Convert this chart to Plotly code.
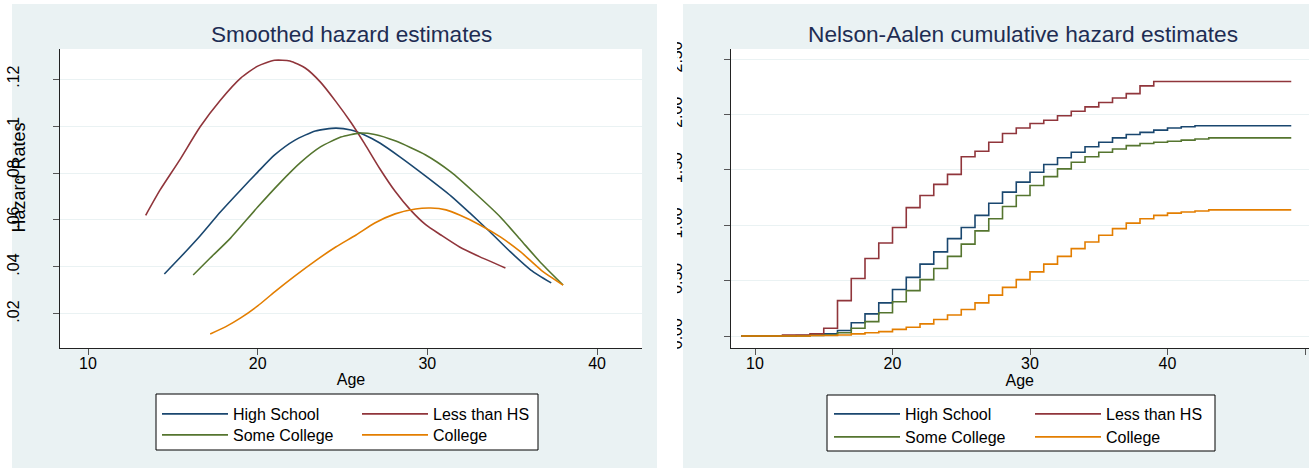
import plotly.graph_objects as go

# ---------------- data ----------------
series_names = ["High School", "Less than HS", "Some College", "College"]
series_colors = ["#1a476f", "#90353b", "#55752f", "#e37e00"]

# Smoothed hazard estimates (left panel)
hs_age = [14.5, 15.4, 16.6, 17.8, 19.0, 20.0, 21.0, 22.2, 23.4, 24.6, 25.5, 26.3, 27.2, 28.4, 29.9, 31.4, 32.5, 33.7, 34.9, 36.1, 37.3]
hs_haz = [0.037, 0.0438, 0.0532, 0.0634, 0.0728, 0.0804, 0.0877, 0.094, 0.0979, 0.0991, 0.0983, 0.0962, 0.0928, 0.0868, 0.0787, 0.0702, 0.063, 0.0549, 0.0464, 0.0387, 0.0332]
lths_age = [13.4, 14.25, 15.4, 16.6, 17.8, 19.0, 20.0, 21.0, 21.9, 22.8, 23.7, 24.6, 25.5, 26.3, 27.2, 28.1, 29.0, 29.9, 30.8, 31.9, 33.1, 34.6]
lths_haz = [0.062, 0.0728, 0.0855, 0.0996, 0.111, 0.1204, 0.1255, 0.128, 0.1277, 0.1247, 0.1187, 0.1105, 0.1015, 0.0925, 0.0818, 0.0722, 0.0643, 0.058, 0.0536, 0.0485, 0.0443, 0.0396]
sc_age = [16.2, 17.2, 18.4, 20.0, 21.3, 22.5, 23.7, 24.9, 26.0, 26.9, 28.1, 29.9, 31.4, 32.8, 34.3, 35.5, 36.7, 38.0]
sc_haz = [0.0366, 0.0438, 0.0523, 0.0655, 0.0757, 0.0843, 0.0911, 0.0953, 0.097, 0.0964, 0.0937, 0.0877, 0.0804, 0.0715, 0.0613, 0.0515, 0.0417, 0.0323]
col_age = [17.2, 18.1, 19.0, 20.0, 21.0, 22.2, 23.4, 24.6, 25.8, 26.9, 28.1, 29.3, 30.2, 31.1, 31.9, 33.1, 34.3, 35.5, 36.7, 38.0]
col_haz = [0.0115, 0.0145, 0.0183, 0.0234, 0.0294, 0.0362, 0.0426, 0.0485, 0.0536, 0.0587, 0.0626, 0.0647, 0.0651, 0.0643, 0.0621, 0.0579, 0.0528, 0.0464, 0.0387, 0.0323]

# Nelson-Aalen cumulative hazard (right panel)
na_age = [9, 10, 11, 12, 13, 14, 15, 16, 17, 18, 19, 20, 21, 22, 23, 24, 25, 26, 27, 28, 29,
          30, 31, 32, 33, 34, 35, 36, 37, 38, 39, 40, 41, 42, 43, 44, 45, 46, 47, 48, 49]
hs_cum = [0, 0, 0, 0, 0.005, 0.01, 0.02, 0.05, 0.12, 0.20, 0.30, 0.42, 0.53, 0.65, 0.76, 0.88, 0.98, 1.09, 1.20, 1.30, 1.39,
          1.48, 1.55, 1.61, 1.66, 1.71, 1.75, 1.79, 1.82, 1.84, 1.86, 1.88, 1.89, 1.90, 1.90, 1.90, 1.90, 1.90, 1.90, 1.90, 1.90]
lths_cum = [0, 0, 0, 0.01, 0.01, 0.02, 0.07, 0.32, 0.52, 0.70, 0.84, 0.98, 1.16, 1.27, 1.37, 1.46, 1.62, 1.67, 1.75, 1.83, 1.88,
            1.92, 1.95, 1.99, 2.03, 2.07, 2.11, 2.15, 2.19, 2.26, 2.30, 2.30, 2.30, 2.30, 2.30, 2.30, 2.30, 2.30, 2.30, 2.30, 2.30]
sc_cum = [0, 0, 0, 0, 0, 0.005, 0.01, 0.03, 0.07, 0.13, 0.21, 0.31, 0.41, 0.51, 0.61, 0.72, 0.83, 0.95, 1.06, 1.17, 1.27,
          1.36, 1.44, 1.51, 1.57, 1.62, 1.66, 1.69, 1.72, 1.74, 1.75, 1.76, 1.77, 1.78, 1.79, 1.79, 1.79, 1.79, 1.79, 1.79, 1.79]
col_cum = [0, 0, 0, 0, 0, 0.005, 0.005, 0.01, 0.02, 0.03, 0.04, 0.06, 0.08, 0.11, 0.15, 0.19, 0.24, 0.30, 0.37, 0.44, 0.51,
           0.58, 0.65, 0.72, 0.79, 0.85, 0.91, 0.97, 1.02, 1.06, 1.09, 1.11, 1.12, 1.13, 1.14, 1.14, 1.14, 1.14, 1.14, 1.14, 1.14]

x_ticks = [10, 20, 30, 40, 50]
left_y_ticks = [0.02, 0.04, 0.06, 0.08, 0.10, 0.12]
left_y_text = [".02", ".04", ".06", ".08", ".1", ".12"]
right_y_ticks = [0, 0.5, 1.0, 1.5, 2.0, 2.5]
right_y_text = ["0.00", "0.50", "1.00", "1.50", "2.00", "2.50"]

# ---------------- layout geometry (pixels) ----------------
W, H = 1309, 470
ML, MR, MT, MB = 60, 0, 49, 122
GW, GH = W - ML - MR, H - MT - MB
def fx(p):
    return (p - ML) / GW
def fy(p):
    return 1 - (p - MT) / GH

FONT = "Liberation Sans, Arial, sans-serif"
BG = "#eaf2f3"
TITLE_C = "#1e2d53"

fig = go.Figure()

left_sets = [(hs_age, hs_haz), (lths_age, lths_haz), (sc_age, sc_haz), (col_age, col_haz)]
right_sets = [hs_cum, lths_cum, sc_cum, col_cum]
left_legends = ["legend", "legend2", "legend3", "legend4"]
right_legends = ["legend5", "legend6", "legend7", "legend8"]

for i, name in enumerate(series_names):
    xs, ys = left_sets[i]
    fig.add_trace(go.Scatter(x=xs, y=ys, mode="lines", name=name, showlegend=True,
                             line=dict(color=series_colors[i], width=1.6, shape="spline", smoothing=0.6),
                             xaxis="x", yaxis="y", legend=left_legends[i]))
for i, name in enumerate(series_names):
    fig.add_trace(go.Scatter(x=na_age, y=right_sets[i], mode="lines", name=name, showlegend=True,
                             line=dict(color=series_colors[i], width=1.6, shape="hv"),
                             xaxis="x2", yaxis="y2", legend=right_legends[i]))

axis_common = dict(showline=True, linecolor="#222", linewidth=1, ticks="outside", ticklen=6,
                   tickcolor="#555", tickfont=dict(family=FONT, size=16, color="black"), zeroline=False)

fig.update_layout(
    width=W, height=H, showlegend=True,
    margin=dict(l=ML, r=MR, t=MT, b=MB, pad=0),
    paper_bgcolor=BG, plot_bgcolor="white",
    font=dict(family=FONT, size=16, color="black"),
    xaxis=dict(domain=[0, fx(642)], range=[8.35, 42.65], tickvals=x_ticks, showgrid=False, ticklabelstandoff=-5,
               title=dict(text="Age", font=dict(family=FONT, size=16), standoff=2), **axis_common),
    yaxis=dict(domain=[0, 1], range=[0.0055, 0.1328], tickvals=left_y_ticks, ticktext=left_y_text,
               tickangle=-90, showgrid=True, gridcolor=BG, gridwidth=1, ticklabelstandoff=28, **axis_common),
    xaxis2=dict(domain=[fx(730.5), 1], range=[8.218, 50.29], tickvals=x_ticks, showgrid=False, anchor="y2",
                ticklabelstandoff=-5,
                title=dict(text="Age", font=dict(family=FONT, size=16), standoff=2), **axis_common),
    yaxis2=dict(domain=[0, 1], range=[-0.108, 2.593], tickvals=right_y_ticks, ticktext=right_y_text,
                tickangle=-90, showgrid=True, gridcolor=BG, gridwidth=1, anchor="x2", ticklabelstandoff=35,
                **axis_common),
)

leg_common = dict(orientation="v", xanchor="left", yanchor="top", bgcolor="rgba(0,0,0,0)",
                  borderwidth=0, itemwidth=66, tracegroupgap=0, visible=True,
                  font=dict(family=FONT, size=16, color="black"))
# one legend per entry, arranged in a 2x2 grid inside each box
fig.update_layout(
    legend=dict(x=fx(157), y=fy(397), **leg_common),
    legend2=dict(x=fx(357), y=fy(397), **leg_common),
    legend3=dict(x=fx(157), y=fy(418), **leg_common),
    legend4=dict(x=fx(357), y=fy(418), **leg_common),
    legend5=dict(x=fx(829), y=fy(397), **leg_common),
    legend6=dict(x=fx(1030), y=fy(397), **leg_common),
    legend7=dict(x=fx(829), y=fy(420), **leg_common),
    legend8=dict(x=fx(1030), y=fy(420), **leg_common),
)

shapes = [
    # white surroundings and gap between panels
    dict(type="rect", xref="paper", yref="paper", x0=fx(0), x1=fx(12), y0=fy(H), y1=fy(0), fillcolor="white", line_width=0, layer="below"),
    dict(type="rect", xref="paper", yref="paper", x0=fx(0), x1=fx(W), y0=fy(4), y1=fy(0), fillcolor="white", line_width=0, layer="below"),
    dict(type="rect", xref="paper", yref="paper", x0=fx(0), x1=fx(W), y0=fy(H), y1=fy(468), fillcolor="white", line_width=0, layer="below"),
    dict(type="rect", xref="paper", yref="paper", x0=fx(677), x1=fx(683), y0=fy(H), y1=fy(0), fillcolor="white", line_width=0, layer="below"),
    dict(type="rect", xref="paper", yref="paper", x0=fx(657), x1=fx(677), y0=fy(H), y1=fy(0), fillcolor="white", line_width=0, layer="above"),
    # legend boxes
    dict(type="rect", xref="paper", yref="paper", x0=fx(156), x1=fx(538), y0=fy(450), y1=fy(394), fillcolor="white",
         line=dict(color="black", width=1), layer="below"),
    dict(type="rect", xref="paper", yref="paper", x0=fx(827), x1=fx(1215), y0=fy(451), y1=fy(395), fillcolor="white",
         line=dict(color="black", width=1), layer="below"),
]
fig.update_layout(shapes=shapes)

fig.add_annotation(text="Smoothed hazard estimates", xref="paper", yref="paper", x=fx(351), y=fy(34),
                   showarrow=False, font=dict(family=FONT, size=22.6, color=TITLE_C), xanchor="center", yanchor="middle")
fig.add_annotation(text="Nelson-Aalen cumulative hazard estimates", xref="paper", yref="paper", x=fx(1023), y=fy(34),
                   showarrow=False, font=dict(family=FONT, size=22.7, color=TITLE_C), xanchor="center", yanchor="middle")
fig.add_annotation(text="Hazard Rates", xref="paper", yref="paper", x=fx(18.5), y=fy(178), textangle=-90,
                   showarrow=False, font=dict(family=FONT, size=18, color="black"), xanchor="center", yanchor="middle")

fig.write_html("out.html", config={"displayModeBar": False},
               post_script="document.body.style.margin='0px';")
